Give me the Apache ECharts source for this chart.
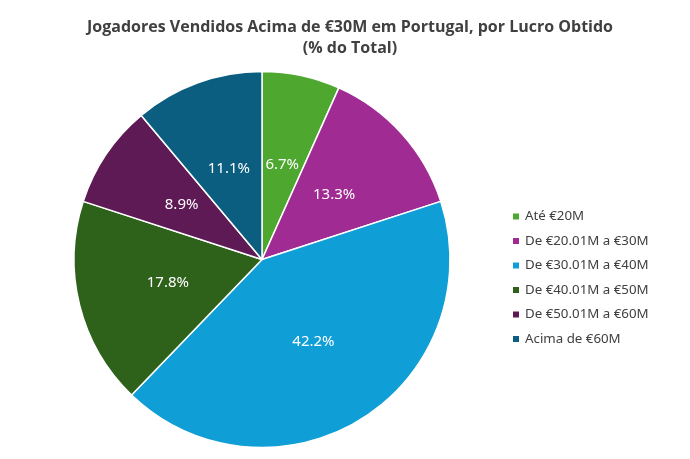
<!DOCTYPE html>
<html><head><meta charset="utf-8">
<script src="https://cdn.jsdelivr.net/npm/echarts@6/dist/echarts.min.js"></script>
<style>html,body{margin:0;padding:0;background:#fff}#c{width:690px;height:459px}</style>
</head><body><div id="c"></div>
<script>
const categories = ['Até €20M','De €20.01M a €30M','De €30.01M a €40M','De €40.01M a €50M','De €50.01M a €60M','Acima de €60M'];
const values = [6.7, 13.3, 42.2, 17.8, 8.9, 11.1];
const colors = ['#4EA72E','#A02B93','#0F9ED5','#2E621B','#5E1A55','#0B5E80'];
const chart = echarts.init(document.getElementById('c'));
chart.setOption({
  animation: false,
  title: {
    text: 'Jogadores Vendidos Acima de €30M em Portugal, por Lucro Obtido\n(% do Total)',
    left: 345, top: 12, textAlign: 'center',
    textStyle: {fontFamily: 'Open Sans', fontSize: 16, fontWeight: 'bold', color: '#404040', lineHeight: 21}
  },
  legend: {
    orient: 'vertical', left: 506, top: 205,
    itemWidth: 8, itemHeight: 8, itemGap: 11.5, icon: 'rect',
    textStyle: {fontFamily: 'Noto Sans', fontSize: 13.3, color: '#404040'},
    data: categories
  },
  series: [{
    type: 'pie', center: [262, 259.5], radius: [0, 188],
    startAngle: 90, clockwise: true,
    itemStyle: {borderColor: '#fff', borderWidth: 1.5},
    label: {position: 'inside', color: '#fff', fontFamily: 'Noto Sans', fontSize: 15,
      formatter: p => p.value.toFixed(1) + '%'},
    labelLine: {show: false},
    data: categories.map((c, i) => ({name: c, value: values[i], itemStyle: {color: colors[i]}}))
  }]
});
</script></body></html>
